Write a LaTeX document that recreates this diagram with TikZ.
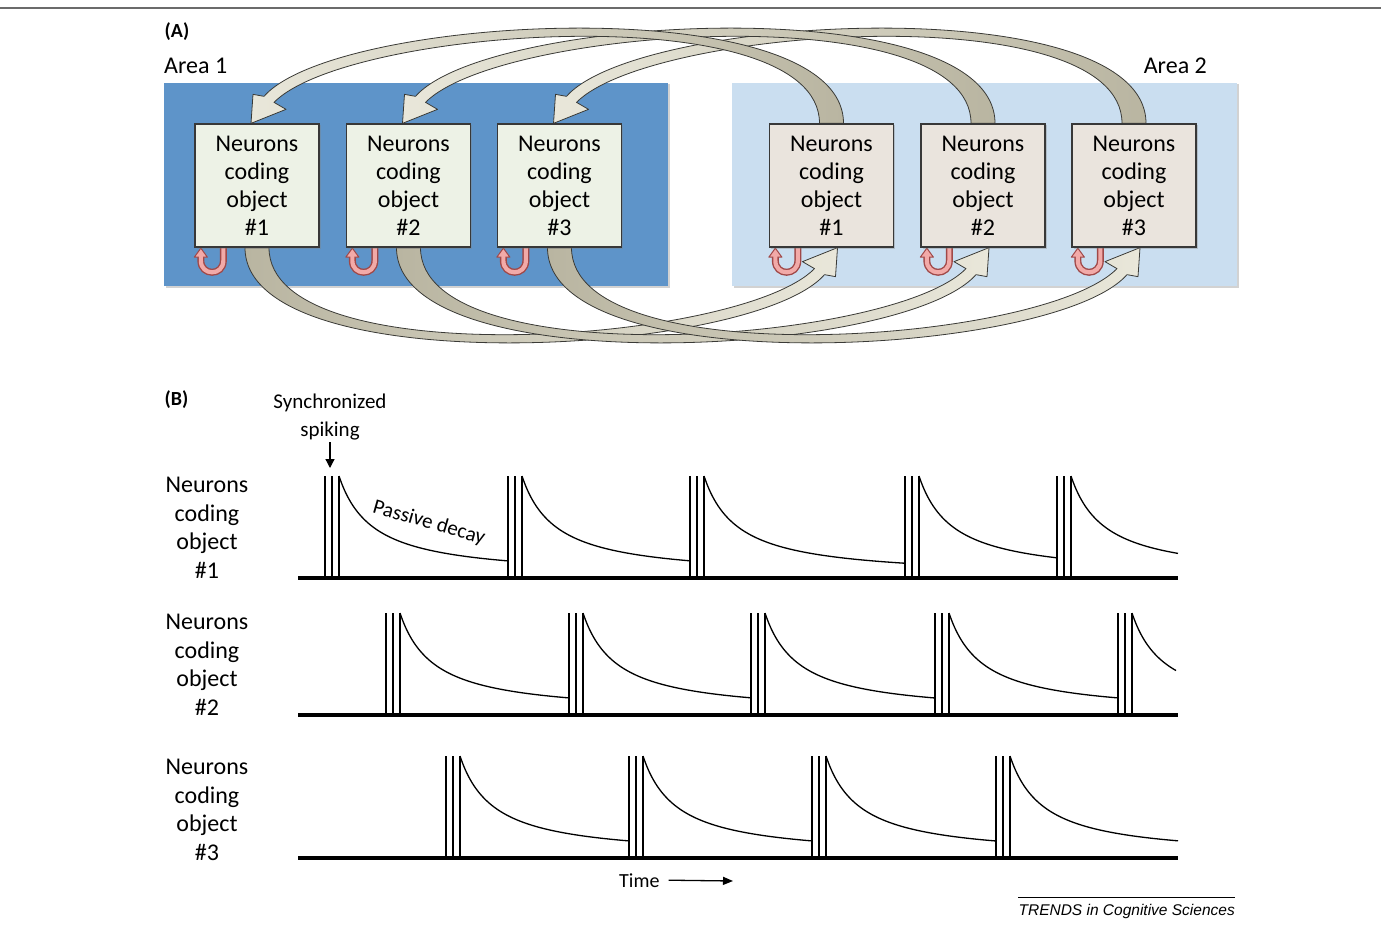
\documentclass[tikz,border=0pt]{standalone}
\usepackage{fontspec}
\setmainfont{Carlito}
\newfontfamily\arialfont{Liberation Sans}
\usetikzlibrary{calc,shadows,arrows.meta}
\pgfdeclarelayer{back}
\pgfdeclarelayer{mid}
\pgfsetlayers{back,mid,main}
\definecolor{areaA}{HTML}{5E94C9}
\definecolor{areaB}{HTML}{CADEF0}
\definecolor{boxA}{HTML}{EDF2E6}
\definecolor{boxB}{HTML}{EAE4DD}
\definecolor{ribD}{HTML}{B9B5A1}
\definecolor{ribL}{HTML}{E9E7DA}
\definecolor{ribO}{HTML}{3A3A36}
\definecolor{loopO}{HTML}{A04848}
\definecolor{loopF}{HTML}{F2AAA8}
\definecolor{frameC}{HTML}{6B6B6B}
\tikzset{
  areabox/.style={draw=none, inner sep=0pt,
    drop shadow={shadow xshift=1.5pt, shadow yshift=-1.5pt, opacity=0.35}},
  objbox/.style={draw=black!78, line width=1.3pt, minimum width=124pt,
    minimum height=123pt, inner sep=0pt, align=center,
    font=\fontsize{24}{28}\selectfont,
    drop shadow={shadow xshift=1.5pt, shadow yshift=-1.5pt, opacity=0.35}},
  ribbon/.style={draw=ribO, line width=0.8pt, line join=round},
  lbl/.style={font=\fontsize{24}{28.5}\selectfont, align=center},
  panellbl/.style={anchor=base west, inner sep=0pt, font=\bfseries\fontsize{20}{24}\selectfont},
  spikeline/.style={line width=2.2pt},
  axisline/.style={line width=4pt},
  decay/.style={line width=1.3pt},
  arrowS/.style={line width=1.3pt, -{Triangle[length=9pt,width=9pt]}},
  arrowT/.style={line width=1.3pt, -{Triangle[length=10pt,width=8pt]}},
}
% tapered arrow from top of box #1 (Area 2) to top of box #2 (Area 1)
\newcommand\TopRib[2]{%
  \path[ribbon, left color=ribL, right color=ribD]
   ($(#1.north)+(12,0)$) .. controls ($(#1.north)+(12,-135)$) and ($(#2.north)+(80,-110)$) .. ($(#2.north)+(7,-27)$)
   -- ($(#2.north)+(-4,-29)$) -- ($(#2.north)+(-6,0)$) -- ($(#2.north)+(29,-14)$) -- ($(#2.north)+(17,-21)$)
   .. controls ($(#2.north)+(92,-97)$) and ($(#1.north)+(-12,-128)$) .. ($(#1.north)+(-12,0)$) -- cycle;}
% tapered arrow from bottom of box #1 (Area 1) to bottom of box #2 (Area 2)
\newcommand\BotRib[2]{%
  \path[ribbon, left color=ribD, right color=ribL]
   ($(#1.south)+(-12,0)$) .. controls ($(#1.south)+(-12,135)$) and ($(#2.south)+(-80,110)$) .. ($(#2.south)+(-7,27)$)
   -- ($(#2.south)+(4,29)$) -- ($(#2.south)+(6,0)$) -- ($(#2.south)+(-29,14)$) -- ($(#2.south)+(-17,21)$)
   .. controls ($(#2.south)+(-92,97)$) and ($(#1.south)+(12,128)$) .. ($(#1.south)+(12,0)$) -- cycle;}
% self loop under box #1
\newcommand\SelfLoop[1]{%
  \draw[line width=7pt, loopO]
    ($(#1.south west)+(29,-3)$) -- ($(#1.south west)+(29,13)$)
    .. controls ($(#1.south west)+(29,28.5)$) and ($(#1.south west)+(6.5,28.5)$) .. ($(#1.south west)+(6.5,13)$)
    -- ($(#1.south west)+(6.5,9)$);
  \filldraw[fill=loopF, draw=loopO, line width=1pt, line join=round]
    ($(#1.south west)+(6.5,0.5)$) -- ($(#1.south west)+(13,9.5)$) -- ($(#1.south west)+(0,9.5)$) -- cycle;
  \draw[line width=4.2pt, loopF]
    ($(#1.south west)+(29,-3)$) -- ($(#1.south west)+(29,13)$)
    .. controls ($(#1.south west)+(29,28.5)$) and ($(#1.south west)+(6.5,28.5)$) .. ($(#1.south west)+(6.5,13)$)
    -- ($(#1.south west)+(6.5,8)$);}
\begin{document}
\begin{tikzpicture}[x=1pt,y=-1pt]
\useasboundingbox (0,0) rectangle (1381,928);
\begin{pgfonlayer}{back}
  \fill[white] (0,0) rectangle (1381,928);
  \draw[frameC, line width=2pt] (0,8.5) -- (1381,8.5);
  \node[areabox, fill=areaA, minimum width=504pt, minimum height=203pt] (area1) at (416,184.5) {};
  \node[areabox, fill=areaB, minimum width=505pt, minimum height=203pt] (area2) at (984.5,184.5) {};
\end{pgfonlayer}

% Panel A labels
\node[panellbl] (labA) at (164.5,38) {(A)};
\node[anchor=base west, inner sep=0pt, font=\fontsize{24}{28}\selectfont] (lab1) at (164,73.5) {Area 1};
\node[anchor=base east, inner sep=0pt, font=\fontsize{24}{28}\selectfont] (lab2) at (1207,73.5) {Area 2};

% boxes
\node[objbox, fill=boxA] (a1) at (257,185.5) {Neurons\\coding\\object\\\#1};
\node[objbox, fill=boxA] (a2) at (408.5,185.5) {Neurons\\coding\\object\\\#2};
\node[objbox, fill=boxA] (a3) at (559.5,185.5) {Neurons\\coding\\object\\\#3};
\node[objbox, fill=boxB] (b1) at (831.5,185.5) {Neurons\\coding\\object\\\#1};
\node[objbox, fill=boxB] (b2) at (983,185.5) {Neurons\\coding\\object\\\#2};
\node[objbox, fill=boxB] (b3) at (1134,185.5) {Neurons\\coding\\object\\\#3};

\begin{pgfonlayer}{mid}
  \TopRib{b3}{a3}
  \TopRib{b2}{a2}
  \TopRib{b1}{a1}
  \BotRib{a1}{b1}
  \BotRib{a2}{b2}
  \BotRib{a3}{b3}
  \SelfLoop{a1}\SelfLoop{a2}\SelfLoop{a3}
  \SelfLoop{b1}\SelfLoop{b2}\SelfLoop{b3}
\end{pgfonlayer}

% Panel B
\node[panellbl] (labB) at (164.5,405) {(B)};
\node[font=\fontsize{21}{27.5}\selectfont, align=center, inner sep=0pt] (sync) at (330,417) {Synchronized\\spiking};
\coordinate (syncTip) at (330,468);
\draw[arrowS] ([yshift=-2pt]sync.south) -- (syncTip);

\node[lbl] (r1) at (207,528) {Neurons\\coding\\object\\\#1};
\node[lbl] (r2) at (207,665) {Neurons\\coding\\object\\\#2};
\node[lbl] (r3) at (207,810) {Neurons\\coding\\object\\\#3};

\foreach \yb/\groups in {578/{325/508,508/690,690/905,905/1057,1057/1178},
                         715/{386/569,569/751,751/935,935/1118,1118/1176},
                         858/{446/629,629/812,812/996,996/1178}} {
  \draw[axisline] (298,\yb) -- (1178,\yb);
  \foreach \a/\b in \groups {
    \pgfmathsetmacro\s{\a+14}
    \pgfmathsetmacro\t{\yb-102}
    \draw[spikeline] (\a,\yb) -- (\a,\t) (\a+7,\yb) -- (\a+7,\t) (\s,\yb) -- (\s,\t);
    \draw[decay] plot[domain=\s:\b, samples=60, smooth] (\x, {\yb-102/(1+(\x-\s)/34)});
  }
}
\node[font=\fontsize{21}{24}\selectfont, rotate=-16, inner sep=0pt] (pd) at (429,523) {Passive decay};

\node[anchor=base west, inner sep=0pt, font=\fontsize{20}{24}\selectfont] (time) at (619,887) {Time};
\coordinate (timeEnd) at (733,881);
\draw[arrowT] ([xshift=9pt]time.east) -- (timeEnd);

\node[anchor=base east, inner sep=0pt, font=\arialfont\itshape\fontsize{15.5}{18}\selectfont] (trends) at (1235,915) {TRENDS in Cognitive Sciences};
\draw[line width=0.8pt] ([yshift=6pt]trends.north west) -- ([yshift=6pt]trends.north east);
\end{tikzpicture}
\end{document}
